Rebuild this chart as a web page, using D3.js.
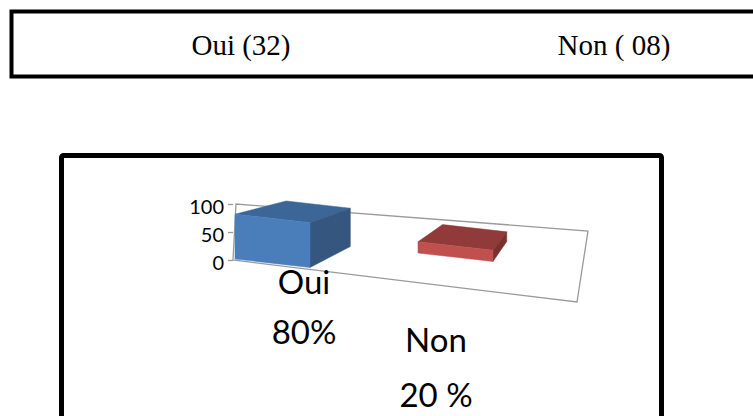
<!DOCTYPE html>
<html>
<head>
<meta charset="utf-8">
<script src="https://cdn.jsdelivr.net/npm/d3@7"></script>
<style>
  body { margin: 0; background: #fff; }
  svg { display: block; }
</style>
</head>
<body>
<svg id="chart" width="753" height="416"></svg>
<script>
"use strict";

// answers table (top box)
const headerLabels = ["Oui (32)", "Non ( 08)"];

// chart data
const categories = ["Oui", "Non"];
const percents = [80, 20];
const percentLabels = ["80%", "20 %"];
const yTicks = [0, 50, 100];

const faceColors = [
    { front: "#4a7ebb", top: "#3c6698", side: "#35577f" },
    { front: "#c0504d", top: "#903b39", side: "#7b302e" }
];

const svg = d3.select("#chart");

// top box with the two counts
svg.append("rect")
    .attr("x", 11.5).attr("y", 11.5)
    .attr("width", 780).attr("height", 65)
    .attr("fill", "none")
    .attr("stroke", "#000")
    .attr("stroke-width", 4);

let headerX = d3.scalePoint().domain(headerLabels).range([241, 614]);
svg.selectAll("text.header")
    .data(headerLabels)
    .enter().append("text")
    .attr("class", "header")
    .attr("x", d => headerX(d))
    .attr("y", 55)
    .attr("text-anchor", "middle")
    .attr("font-family", "'Liberation Serif', 'Times New Roman', serif")
    .attr("font-size", 29)
    .text(d => d);

// chart box
svg.append("rect")
    .attr("x", 61.5).attr("y", 155.5)
    .attr("width", 600).attr("height", 300)
    .attr("rx", 2)
    .attr("fill", "#fff")
    .attr("stroke", "#000")
    .attr("stroke-width", 5);

// scales (flattened 3D projection)
let x = d3.scaleBand().domain(categories).range([235, 493]).paddingInner(0.59);
let h = d3.scaleLinear().domain([0, 100]).range([0, 56]);
let yLeft = d3.scaleLinear().domain([0, 100]).range([260, 204]);
let yRight = d3.scaleLinear().domain([0, 100]).range([302, 231]);
let baseY = d3.scaleLinear().domain([0, categories.length - 1]).range([259, 253]);
const slope = 0.113;       // slant of the bars' front edges
const vp = [588, 123];     // vanishing point for depth
const depth = 0.145;

function back(p) {
    return [p[0] + depth * (vp[0] - p[0]), p[1] + depth * (vp[1] - p[1])];
}

// plot outline
let outline = [
    [233, yLeft(0)], [236, yLeft(100)],
    [588, yRight(100)], [577, yRight(0)]
];
svg.append("polygon")
    .attr("points", outline.map(p => p.join(",")).join(" "))
    .attr("fill", "none")
    .attr("stroke", "#9a9a9a")
    .attr("stroke-width", 1.3);

// bars
let bars = svg.append("g");
categories.forEach((c, i) => {
    let x0 = x(c), w = x.bandwidth(), b = baseY(i), hv = h(percents[i]);
    let fbl = [x0, b], fbr = [x0 + w, b + slope * w];
    let ftl = [x0, b - hv], ftr = [x0 + w, b + slope * w - hv];
    let btl = back(ftl), btr = back(ftr), bbr = back(fbr);
    let faces = [
        { pts: [ftl, ftr, btr, btl], fill: faceColors[i].top },
        { pts: [ftr, fbr, bbr, btr], fill: faceColors[i].side },
        { pts: [fbl, fbr, ftr, ftl], fill: faceColors[i].front }
    ];
    bars.selectAll(null)
        .data(faces)
        .enter().append("polygon")
        .attr("points", d => d.pts.map(p => p.join(",")).join(" "))
        .attr("fill", d => d.fill)
        .attr("stroke", d => d.fill)
        .attr("stroke-width", 0.5);
});

// value axis
let axis = svg.append("g")
    .attr("transform", "translate(233,0)")
    .call(d3.axisLeft(yLeft).tickValues(yTicks).tickSize(5).tickPadding(4));
axis.select(".domain").remove();
axis.selectAll("line").attr("stroke", "#9a9a9a").attr("stroke-width", 1.3);
axis.selectAll("text")
    .attr("font-family", "Lato, 'Open Sans', sans-serif")
    .attr("font-size", 20)
    .attr("fill", "#000")
    .attr("dy", "0.45em");

// category labels under the chart
let labelX = d3.scaleLinear().domain([0, categories.length - 1]).range([304, 436]);
let labelY = d3.scaleLinear().domain([0, categories.length - 1]).range([294, 352]);
let labels = svg.append("g")
    .attr("font-family", "Lato, 'Open Sans', sans-serif")
    .attr("font-size", 33)
    .attr("text-anchor", "middle");
categories.forEach((c, i) => {
    let t = labels.append("text")
        .attr("x", labelX(i))
        .attr("y", labelY(i));
    t.append("tspan").attr("x", labelX(i)).text(c);
    t.append("tspan").attr("x", labelX(i)).attr("dy", i === 0 ? 50 : 55).text(percentLabels[i]);
});
</script>
</body>
</html>
